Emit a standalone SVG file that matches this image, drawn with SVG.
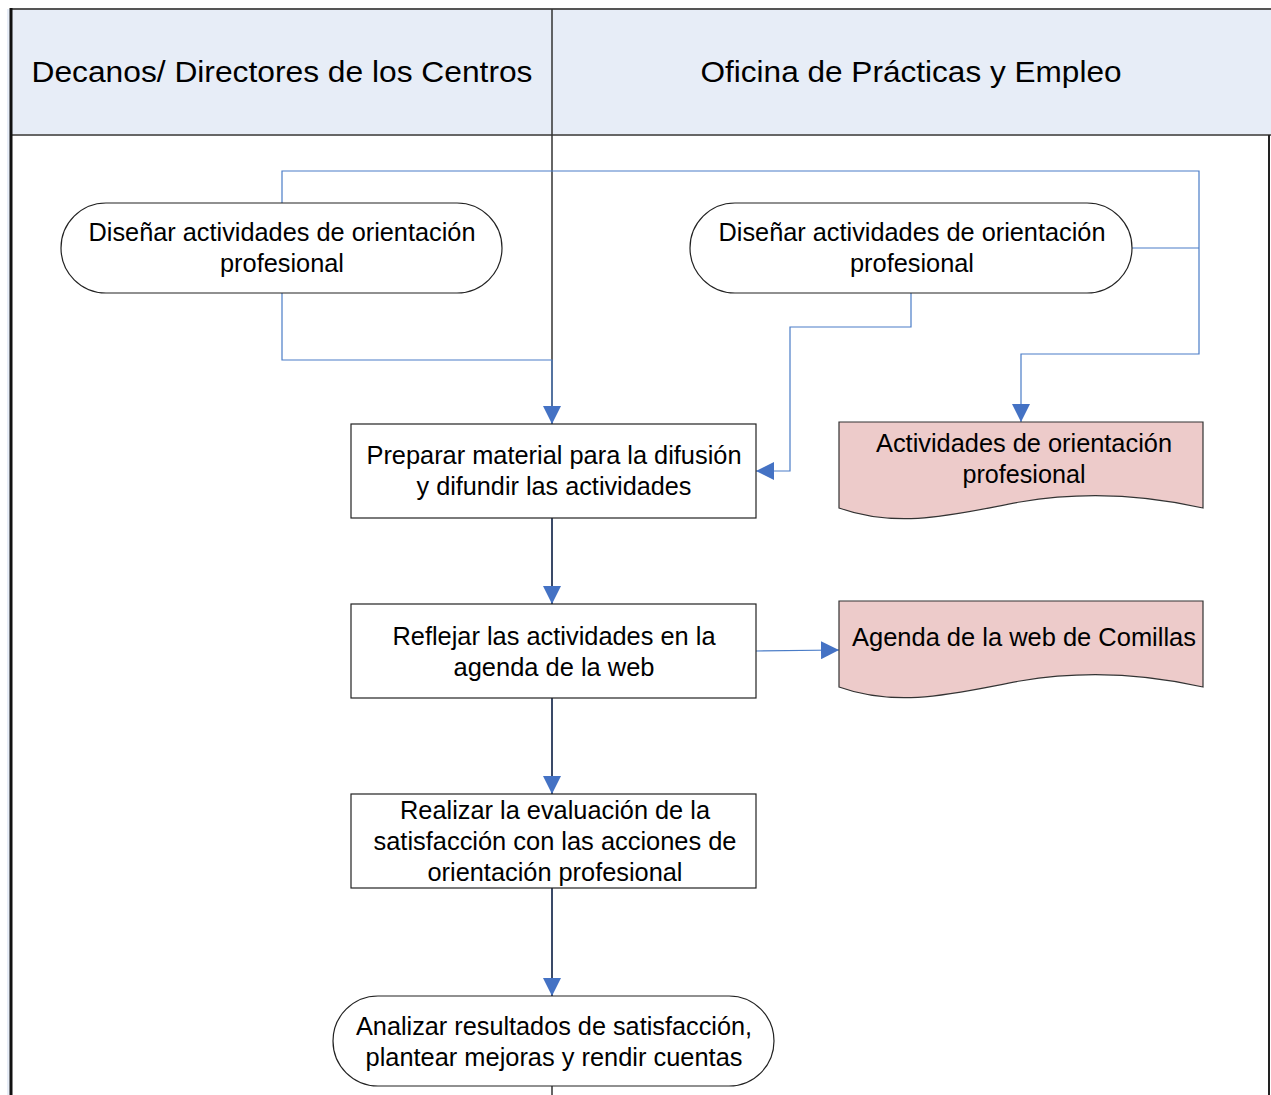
<svg xmlns="http://www.w3.org/2000/svg" width="1271" height="1095" viewBox="0 0 1271 1095">
<style>
text{font-family:"Liberation Sans",Arial,sans-serif;fill:#000;text-anchor:middle}
.h{font-size:29px}
.t{font-size:25px}
.node{fill:#fff;stroke:#222;stroke-width:1.2}
.doc{fill:#EDCBCA;stroke:#333;stroke-width:1.2}
.c{fill:none;stroke:#4A7CC7;stroke-width:1.2}
.cd{fill:none;stroke:#3A4A68;stroke-width:2}
</style>
<defs>
<marker id="ar" markerWidth="18" markerHeight="18" viewBox="0 0 18 18" refX="18" refY="9" orient="auto" markerUnits="userSpaceOnUse">
<path d="M0,0 L18,9 L0,18 Z" fill="#4472C4"/>
</marker>
</defs>
<g id="pool">
<rect x="7" y="9" width="1264" height="126" fill="#E7EDF7"/>
<rect x="7" y="135" width="3" height="960" fill="#E7EDF7"/>
<line x1="10" y1="9" x2="1271" y2="9" stroke="#555" stroke-width="2"/>
<line x1="10" y1="135" x2="1271" y2="135" stroke="#666" stroke-width="2"/>
<line x1="11" y1="8" x2="11" y2="1095" stroke="#111" stroke-width="3"/>
<line x1="1269" y1="135" x2="1269" y2="1095" stroke="#222" stroke-width="2"/>
<line x1="552" y1="9" x2="552" y2="1095" stroke="#333" stroke-width="1.5"/>
<text class="h" x="282" y="82" textLength="501" lengthAdjust="spacingAndGlyphs">Decanos/ Directores de los Centros</text>
<text class="h" x="911" y="82" textLength="421" lengthAdjust="spacingAndGlyphs">Oficina de Prácticas y Empleo</text>
</g>
<g id="connectors">
<path class="c" d="M282,203 V171 H1199 V354 H1021 V422" marker-end="url(#ar)"/>
<path class="c" d="M1132,248 H1199"/>
<path class="c" d="M282,293 V360 H552 V424" marker-end="url(#ar)"/>
<path class="c" d="M911,293 V327 H790 V471 H756" marker-end="url(#ar)"/>
<path class="cd" d="M552,518 V604" marker-end="url(#ar)"/>
<path class="c" d="M756,651 L839,650" marker-end="url(#ar)"/>
<path class="cd" d="M552,698 V794" marker-end="url(#ar)"/>
<path class="cd" d="M552,888 V996" marker-end="url(#ar)"/>
</g>
<g id="n1">
<rect class="node" x="61" y="203" width="441" height="90" rx="45" ry="45"/>
<text class="t" x="282" y="241" textLength="387" lengthAdjust="spacingAndGlyphs">Diseñar actividades de orientación</text>
<text class="t" x="282" y="272" textLength="124" lengthAdjust="spacingAndGlyphs">profesional</text>
</g>
<g id="n2">
<rect class="node" x="690" y="203" width="442" height="90" rx="45" ry="45"/>
<text class="t" x="912" y="241" textLength="387" lengthAdjust="spacingAndGlyphs">Diseñar actividades de orientación</text>
<text class="t" x="912" y="272" textLength="124" lengthAdjust="spacingAndGlyphs">profesional</text>
</g>
<g id="n3">
<rect class="node" x="351" y="424" width="405" height="94"/>
<text class="t" x="554" y="464" textLength="375" lengthAdjust="spacingAndGlyphs">Preparar material para la difusión</text>
<text class="t" x="554" y="495" textLength="275" lengthAdjust="spacingAndGlyphs">y difundir las actividades</text>
</g>
<g id="n4">
<path class="doc" d="M839,422 H1203 V508 C1150,496 1090,490 1020,502 C960,513 900,530 839,508 Z"/>
<text class="t" x="1024" y="452" textLength="296" lengthAdjust="spacingAndGlyphs">Actividades de orientación</text>
<text class="t" x="1024" y="483" textLength="123" lengthAdjust="spacingAndGlyphs">profesional</text>
</g>
<g id="n5">
<rect class="node" x="351" y="604" width="405" height="94"/>
<text class="t" x="554" y="645" textLength="323" lengthAdjust="spacingAndGlyphs">Reflejar las actividades en la</text>
<text class="t" x="554" y="676" textLength="201" lengthAdjust="spacingAndGlyphs">agenda de la web</text>
</g>
<g id="n6">
<path class="doc" d="M839,601 H1203 V687 C1150,675 1090,669 1020,681 C960,692 900,709 839,687 Z"/>
<text class="t" x="1024" y="646" textLength="344" lengthAdjust="spacingAndGlyphs">Agenda de la web de Comillas</text>
</g>
<g id="n7">
<rect class="node" x="351" y="794" width="405" height="94"/>
<text class="t" x="555" y="819" textLength="310" lengthAdjust="spacingAndGlyphs">Realizar la evaluación de la</text>
<text class="t" x="555" y="850" textLength="363" lengthAdjust="spacingAndGlyphs">satisfacción con las acciones de</text>
<text class="t" x="555" y="881" textLength="255" lengthAdjust="spacingAndGlyphs">orientación profesional</text>
</g>
<g id="n8">
<rect class="node" x="333" y="996" width="441" height="90" rx="45" ry="45"/>
<text class="t" x="554" y="1035" textLength="396" lengthAdjust="spacingAndGlyphs">Analizar resultados de satisfacción,</text>
<text class="t" x="554" y="1066" textLength="377" lengthAdjust="spacingAndGlyphs">plantear mejoras y rendir cuentas</text>
</g>
</svg>
